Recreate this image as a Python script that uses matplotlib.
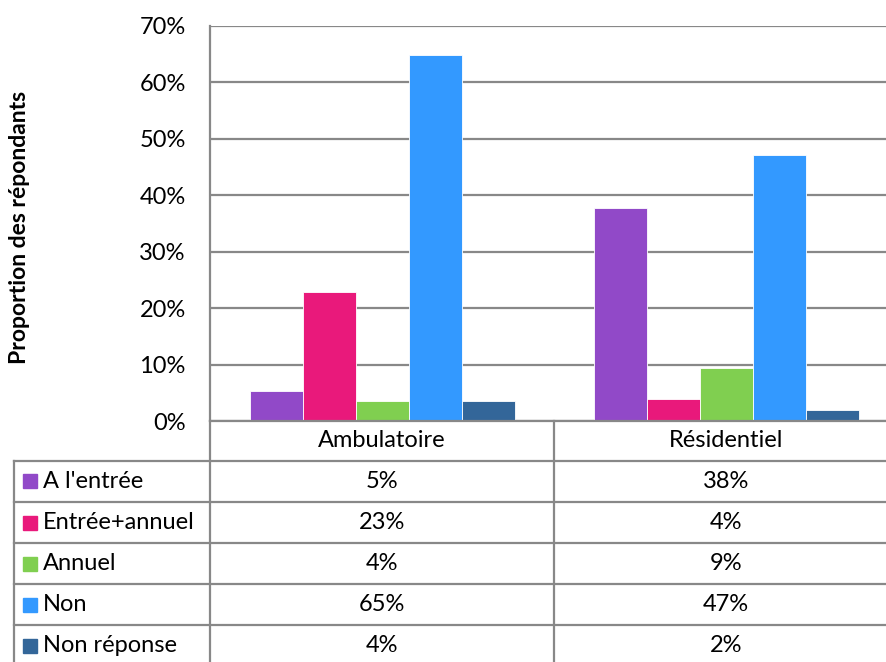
import matplotlib.pyplot as plt
import numpy as np

categories = ["Ambulatoire", "Résidentiel"]
series = ["A l'entrée", "Entrée+annuel", "Annuel", "Non", "Non réponse"]
values = [
    [5.3, 37.8],   # A l'entrée
    [22.9, 3.9],   # Entrée+annuel
    [3.5, 9.4],    # Annuel
    [64.9, 47.2],  # Non
    [3.5, 1.9],    # Non réponse
]
colors = ["#9149C8", "#E9197B", "#80CF50", "#3399FF", "#336699"]
yticks = [0, 10, 20, 30, 40, 50, 60, 70]

plt.rcParams["font.family"] = ["Lato", "DejaVu Sans"]
GRID = "#888888"
FS = 17

W, H = 886, 662
fig = plt.figure(figsize=(W / 100, H / 100), dpi=100)

# pixel layout
ax_l, ax_r, ax_t, ax_b = 210, 898, 26, 421
tab_l = 14
cat_w = (ax_r - ax_l) / len(categories)
row_h = 41

ax = fig.add_axes([ax_l / W, 1 - ax_b / H, (ax_r - ax_l) / W, (ax_b - ax_t) / H])
x = np.arange(len(categories))
bw = 53 / cat_w
n = len(series)
for i, (name, vals) in enumerate(zip(series, values)):
    ax.bar(x + (i - (n - 1) / 2) * bw, vals, width=bw, color=colors[i],
           edgecolor="white", linewidth=0.6, zorder=3)

ax.set_xlim(-0.5, len(categories) - 0.5)
ax.set_ylim(0, 70)
ax.set_yticks(yticks)
ax.set_yticklabels(["%d%%" % t for t in yticks], fontsize=FS)
ax.set_xticks([])
ax.tick_params(axis="y", length=0, pad=17.5)
ax.grid(axis="y", color=GRID, linewidth=1.6, zorder=0)
for s in ["top", "right", "bottom"]:
    ax.spines[s].set_visible(False)
ax.spines["left"].set_color(GRID)
ax.spines["left"].set_linewidth(1.6)
ax.set_ylabel("Proportion des répondants", fontsize=16.5, fontweight="bold")
ax.yaxis.set_label_coords(-(ax_l - 30) / (ax_r - ax_l), 0.49)

# data table below the plot
tab_t, tab_b = ax_b, ax_b + 40 + n * row_h
tx = fig.add_axes([tab_l / W, 1 - tab_b / H, (ax_r - tab_l) / W, (tab_b - tab_t) / H])
left_x = -0.5 - (ax_l - tab_l) / cat_w
tx.set_xlim(left_x, len(categories) - 0.5)
tx.axis("off")
head = 40 / row_h
row_edges = [0, head] + [head + k + 1 for k in range(n)]
tx.set_ylim(row_edges[-1], 0)

lw = 1.6
# horizontal lines
tx.plot([-0.5, 1.5], [0, 0], color=GRID, lw=lw, clip_on=False)
for y in row_edges[1:]:
    tx.plot([left_x, 1.5], [y, y], color=GRID, lw=lw, clip_on=False)
# vertical lines
tx.plot([left_x, left_x], [head, row_edges[-1]], color=GRID, lw=lw, clip_on=False)
for xv in [-0.5, 0.5, 1.5]:
    tx.plot([xv, xv], [0, row_edges[-1]], color=GRID, lw=lw, clip_on=False)

for j, cat in enumerate(categories):
    tx.text(j, head / 2, cat, ha="center", va="center", fontsize=FS)
sw = 14 / cat_w
sh = 14 / row_h
for i, name in enumerate(series):
    yc = (row_edges[i + 1] + row_edges[i + 2]) / 2
    tx.add_patch(plt.Rectangle((left_x + 9 / cat_w, yc - sh / 2), sw, sh,
                               color=colors[i], clip_on=False))
    tx.text(left_x + 29 / cat_w, yc, name, ha="left", va="center", fontsize=FS)
    for j in range(len(categories)):
        tx.text(j, yc, "%d%%" % round(values[i][j]), ha="center", va="center",
                fontsize=FS)

fig.savefig("out.png", dpi=100)
